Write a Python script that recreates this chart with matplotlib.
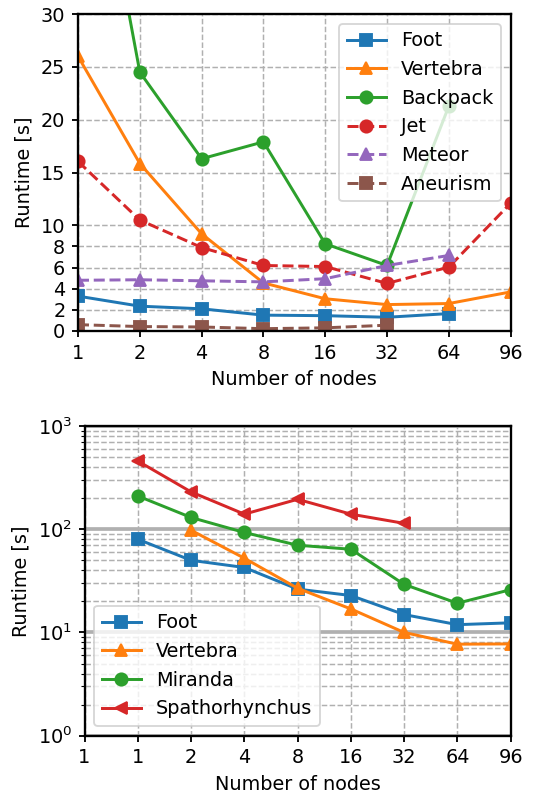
import matplotlib
matplotlib.use("Agg")
import matplotlib.pyplot as plt
import numpy as np

# ---- Top chart data ----
nodes_top = ['1', '2', '4', '8', '16', '32', '64', '96']
foot_top = [3.3, 2.35, 2.1, 1.5, 1.45, 1.3, 1.65]
vertebra_top = [26.0, 15.85, 9.2, 4.55, 3.05, 2.5, 2.6, 3.7]
backpack_top = [56.0, 24.5, 16.3, 17.9, 8.25, 6.2, 21.3]
jet_top = [16.05, 10.5, 7.9, 6.2, 6.1, 4.5, 6.05, 12.1]
meteor_top = [4.8, 4.85, 4.75, 4.65, 4.95, 6.2, 7.15]
aneurism_top = [0.6, 0.42, 0.38, 0.22, 0.3, 0.55]
yticks_top = [0, 2, 4, 6, 8, 10, 15, 20, 25, 30]

# ---- Bottom chart data ----
nodes_bottom = ['1', '1', '2', '4', '8', '16', '32', '64', '96']
foot_bottom = [80, 50, 42.6, 26.3, 22.8, 14.9, 11.9, 12.4]
vertebra_bottom = [97.8, 52.4, 26.8, 16.9, 10.0, 7.7, 7.75]
miranda_bottom = [210, 130, 93, 70, 64, 29.2, 19.2, 26.0]
spath_bottom = [458, 230, 140, 195, 140, 114]

C_BLUE = '#1f77b4'
C_ORANGE = '#ff7f0e'
C_GREEN = '#2ca02c'
C_RED = '#d62728'
C_PURPLE = '#9467bd'
C_BROWN = '#8c564b'

plt.rcParams.update({
    'font.size': 10.4,
    'lines.linewidth': 1.6,
    'lines.markersize': 6.6,
    'axes.linewidth': 1.25,
    'xtick.major.width': 1.0,
    'ytick.major.width': 1.0,
    'xtick.major.size': 3.3,
    'ytick.major.size': 3.3,
})

DPI = 133.75
fig = plt.figure(figsize=(535 / DPI, 793 / DPI), dpi=DPI)

# ---------------- Top axes ----------------
ax1 = fig.add_axes([78 / 535, (793 - 331) / 793, 432.7 / 535, 317 / 793])
series_top = [
    ('Foot', foot_top, C_BLUE, 's', '-'),
    ('Vertebra', vertebra_top, C_ORANGE, '^', '-'),
    ('Backpack', backpack_top, C_GREEN, 'o', '-'),
    ('Jet', jet_top, C_RED, 'o', '--'),
    ('Meteor', meteor_top, C_PURPLE, '^', '--'),
    ('Aneurism', aneurism_top, C_BROWN, 's', '--'),
]
for name, vals, col, mk, ls in series_top:
    ax1.plot(np.arange(len(vals)), vals, color=col, marker=mk, linestyle=ls,
             label=name)
ax1.set_xlim(0, len(nodes_top) - 1)
ax1.set_ylim(0, 30)
ax1.set_xticks(np.arange(len(nodes_top)))
ax1.set_xticklabels(nodes_top)
ax1.set_yticks(yticks_top)
ax1.grid(True, linestyle='--', color='#b0b0b0', linewidth=0.8)
ax1.set_axisbelow(True)
ax1.set_xlabel('Number of nodes')
ax1.set_ylabel('Runtime [s]')
ax1.legend(loc='upper right')

# ---------------- Bottom axes ----------------
ax2 = fig.add_axes([84.5 / 535, (793 - 735.7) / 793, 426.2 / 535, 309.7 / 793])
series_bottom = [
    ('Foot', foot_bottom, C_BLUE, 's', 1),
    ('Vertebra', vertebra_bottom, C_ORANGE, '^', 2),
    ('Miranda', miranda_bottom, C_GREEN, 'o', 1),
    ('Spathorhynchus', spath_bottom, C_RED, '<', 1),
]
for name, vals, col, mk, start in series_bottom:
    ax2.plot(np.arange(start, start + len(vals)), vals, color=col, marker=mk,
             linestyle='-', label=name)
ax2.set_yscale('log')
ax2.set_ylim(1, 1000)
ax2.set_xlim(0, len(nodes_bottom) - 1)
ax2.set_xticks(np.arange(len(nodes_bottom)))
ax2.set_xticklabels(nodes_bottom)
ax2.xaxis.grid(True, linestyle='--', color='#b0b0b0', linewidth=0.8)
ax2.yaxis.grid(True, which='minor', linestyle='--', color='#b0b0b0', linewidth=0.8)
ax2.yaxis.grid(True, which='major', linestyle='-', color='#b0b0b0', linewidth=2.0)
ax2.set_axisbelow(True)
ax2.set_xlabel('Number of nodes')
ax2.set_ylabel('Runtime [s]')
ax2.legend(loc='lower left')

fig.savefig('out.png', dpi=DPI)
